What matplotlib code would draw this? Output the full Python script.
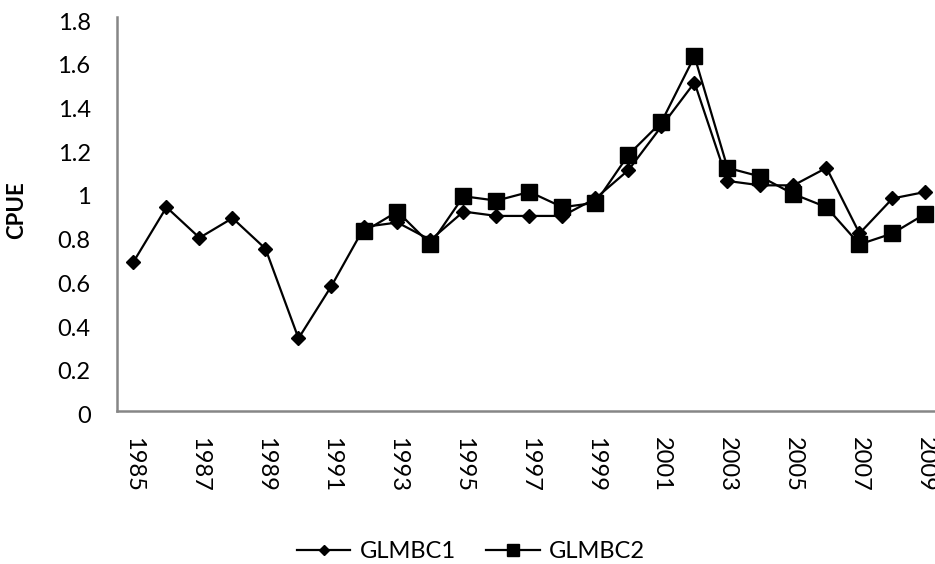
import numpy as np
import matplotlib.pyplot as plt
from matplotlib.transforms import ScaledTranslation

# ---------------------------------------------------------------
# dados
# ---------------------------------------------------------------
years = list(range(1985, 2010))

glmbc1 = [0.68, 0.93, 0.79, 0.88, 0.74, 0.33, 0.57, 0.84, 0.86, 0.78,
          0.91, 0.89, 0.89, 0.89, 0.97, 1.10, 1.30, 1.50, 1.05, 1.03,
          1.03, 1.11, 0.81, 0.97, 1.00]

# GLMBC2 começa em 1992
glmbc2 = [None] * 7 + [0.82, 0.91, 0.76, 0.98, 0.96, 1.00, 0.93, 0.95,
                       1.17, 1.32, 1.62, 1.11, 1.07, 0.99, 0.93, 0.76,
                       0.81, 0.90]

yticks = [0, 0.2, 0.4, 0.6, 0.8, 1, 1.2, 1.4, 1.6, 1.8]
ytick_labels = ['0', '0.2', '0.4', '0.6', '0.8', '1', '1.2', '1.4', '1.6', '1.8']

plt.rcParams['font.family'] = ['Lato', 'DejaVu Sans']
FS = 17

fig = plt.figure(figsize=(9.35, 5.64), dpi=100)
ax = fig.add_axes([117 / 935, 1 - 410.5 / 564, 825 / 935, 393.5 / 564])

x = np.arange(len(years))
y2 = np.array([np.nan if v is None else v for v in glmbc2], dtype=float)

ax.plot(x, glmbc1, color='black', linewidth=1.6, marker='D', markersize=7,
        label='GLMBC1', zorder=3)
ax.plot(x, y2, color='black', linewidth=1.6, marker='s', markersize=11,
        label='GLMBC2', zorder=2)

ax.set_xlim(-0.5, len(years) - 0.5)
ax.set_ylim(0, 1.8)

ax.set_yticks(yticks)
ax.set_yticklabels(ytick_labels, fontsize=FS)
ax.set_xticks(x[::2])
ax.set_xticklabels([str(y) for y in years[::2]], rotation=270, fontsize=FS)
ax.tick_params(axis='both', length=0)
ax.tick_params(axis='y', pad=19)
ax.tick_params(axis='x', pad=19)

# rótulos do eixo y um pouco abaixo da marca (como no Excel)
off = ScaledTranslation(0, -4 / 100, fig.dpi_scale_trans)
for lab in ax.get_yticklabels():
    lab.set_transform(lab.get_transform() + off)

ax.set_ylabel('CPUE', fontsize=16, fontweight='bold')
ax.yaxis.set_label_coords(-(117 - 27) / 825, (410.5 - 210) / 393.5)

for side in ['top', 'right']:
    ax.spines[side].set_visible(False)
for side in ['left', 'bottom']:
    ax.spines[side].set_color('#868686')
    ax.spines[side].set_linewidth(1.8)

fig.legend(loc='center', bbox_to_anchor=(471 / 935, 1 - 552 / 564), ncol=2,
           frameon=False, fontsize=FS, handlelength=2.25, columnspacing=1.3,
           handletextpad=0.4, markerscale=0.75)

fig.savefig('out.png', dpi=100)
